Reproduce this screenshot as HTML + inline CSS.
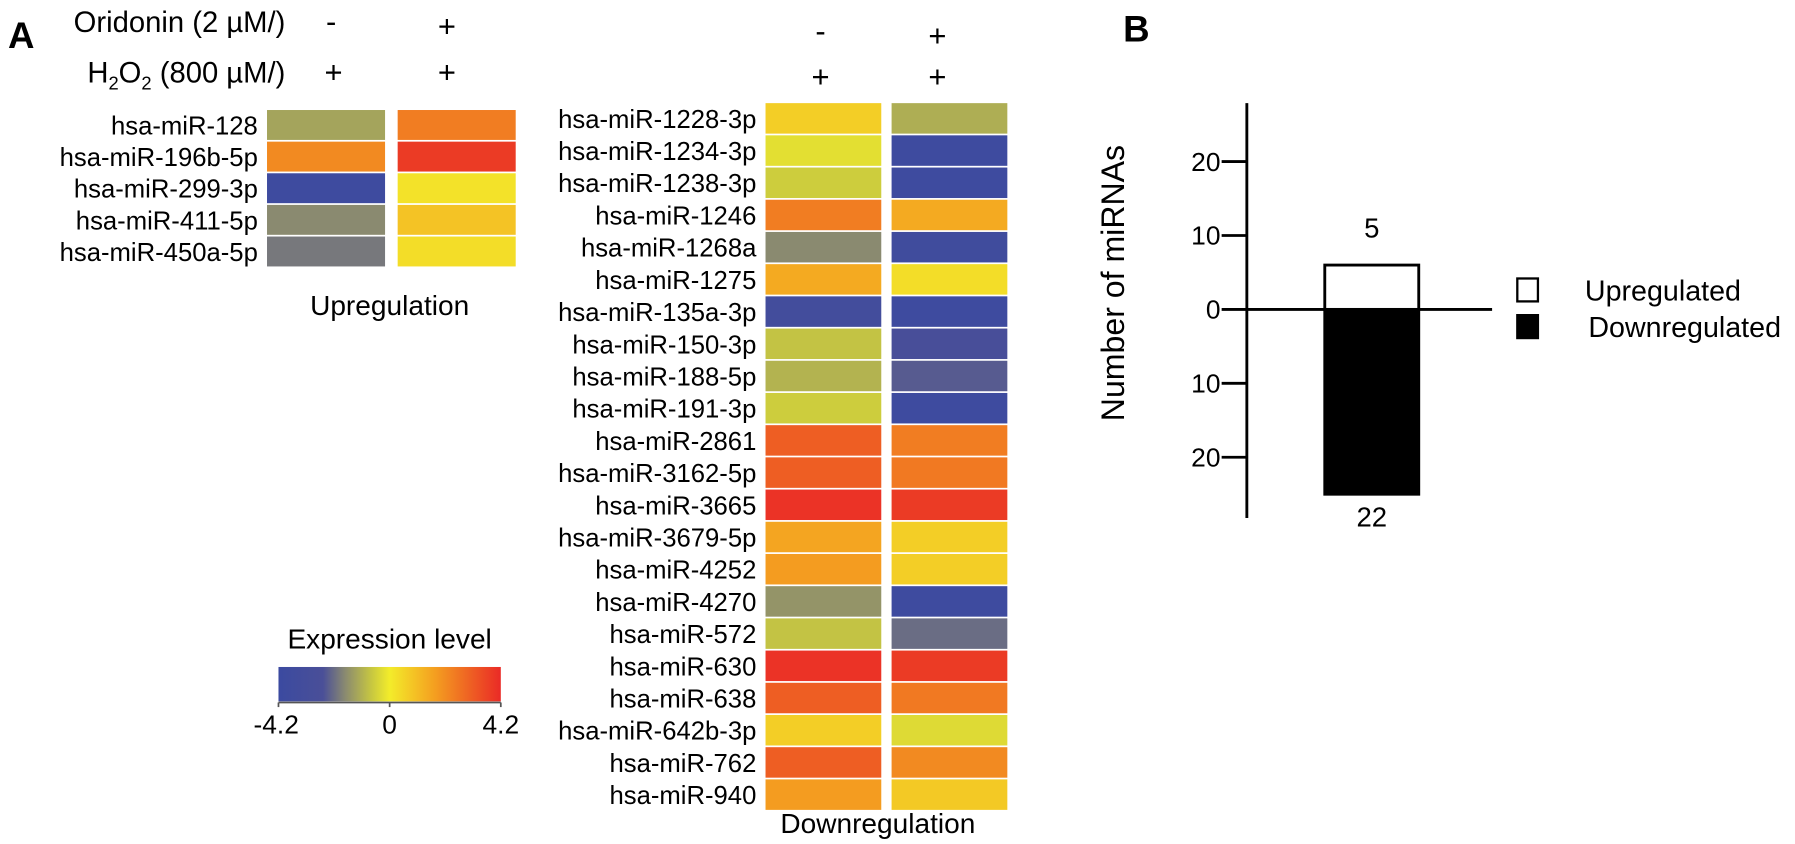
<!DOCTYPE html>
<html><head><meta charset="utf-8"><style>
html,body{margin:0;padding:0;background:#fff}
svg{display:block;font-family:"Liberation Sans",Arial,sans-serif}
</style></head><body>
<svg id="fig" width="1795" height="844" viewBox="0 0 1795 844" xmlns="http://www.w3.org/2000/svg">
<defs>
<linearGradient id="cb" x1="0" x2="1" y1="0" y2="0">
<stop offset="0" stop-color="#3b4aa0"/><stop offset="0.2" stop-color="#4a4f98"/><stop offset="0.3" stop-color="#8a8a70"/><stop offset="0.42" stop-color="#c8c840"/><stop offset="0.5" stop-color="#f3ec2a"/><stop offset="0.7" stop-color="#f4a020"/><stop offset="1" stop-color="#ea2a26"/>
</linearGradient>
</defs>
<g transform="scale(1.146)">
<text x="7" y="42" font-size="32" font-weight="bold">A</text>
<text x="980" y="36" font-size="32" font-weight="bold">B</text>
<text x="249" y="28" font-size="25.5" text-anchor="end">Oridonin (2 µM/)</text>
<text x="249" y="72" font-size="25.5" text-anchor="end">H<tspan font-size="16" dy="6">2</tspan><tspan dy="-6">O</tspan><tspan font-size="16" dy="6">2</tspan><tspan dy="-6"> (800 µM/)</tspan></text>
<g font-size="27" text-anchor="middle">
<text x="289" y="28">-</text><text x="390" y="32">+</text>
<text x="291" y="72">+</text><text x="390" y="72">+</text>
<text x="716" y="36">-</text><text x="818" y="40">+</text>
<text x="716" y="76">+</text><text x="818" y="76">+</text>
</g>
<g id="up"></g><g id="down"></g>
<text x="340" y="275" font-size="24.5" text-anchor="middle">Upregulation</text>
<text x="766" y="727" font-size="24.5" text-anchor="middle">Downregulation</text>
<text x="340" y="566" font-size="24.5" text-anchor="middle">Expression level</text>
<rect x="243" y="582" width="194" height="30" fill="url(#cb)"/>
<g stroke="#555" stroke-width="1.5">
<line x1="243" y1="613" x2="437" y2="613"/><line x1="243" y1="613" x2="243" y2="617"/><line x1="340" y1="613" x2="340" y2="617"/><line x1="437" y1="613" x2="437" y2="617"/>
</g>
<g font-size="23" text-anchor="middle">
<text x="241" y="640">-4.2</text><text x="340" y="640">0</text><text x="437" y="640">4.2</text>
</g>
<g id="bar"></g>
</g>
</svg>
<script>
const upNames=["hsa-miR-128","hsa-miR-196b-5p","hsa-miR-299-3p","hsa-miR-411-5p","hsa-miR-450a-5p"];
const upCtrl=[-1.5,2.0,-4.0,-2.0,-2.3];
const upOri=[2.3,3.8,0.2,0.8,0.3];
const downNames=["hsa-miR-1228-3p","hsa-miR-1234-3p","hsa-miR-1238-3p","hsa-miR-1246","hsa-miR-1268a","hsa-miR-1275","hsa-miR-135a-3p","hsa-miR-150-3p","hsa-miR-188-5p","hsa-miR-191-3p","hsa-miR-2861","hsa-miR-3162-5p","hsa-miR-3665","hsa-miR-3679-5p","hsa-miR-4252","hsa-miR-4270","hsa-miR-572","hsa-miR-630","hsa-miR-638","hsa-miR-642b-3p","hsa-miR-762","hsa-miR-940"];
const downCtrl=[0.6,-0.3,-0.7,2.3,-2.0,1.3,-3.6,-0.9,-1.2,-0.7,3.0,3.0,4.0,1.4,1.6,-1.8,-0.9,4.0,3.0,0.6,3.0,1.6];
const downOri=[-1.3,-4.0,-4.0,1.3,-3.8,0.3,-4.0,-3.2,-2.8,-4.0,2.3,2.4,3.8,0.6,0.6,-4.0,-2.5,3.8,2.4,-0.4,2.0,0.7];
const barCats=["Upregulated","Downregulated"];
const barValues=[6,-25];
const barLabels=["5","22"];
const yTicks=[20,10,0,-10,-20];

const NS="http://www.w3.org/2000/svg";
const stops=[[-4.2,[59,74,160]],[-3.0,[74,79,152]],[-2.0,[138,138,112]],[-0.8,[200,200,64]],[0,[243,236,42]],[1.5,[244,160,32]],[4.2,[234,42,38]]];
function cmap(v){v=Math.max(-4.2,Math.min(4.2,v));for(let i=0;i<stops.length-1;i++){const a=stops[i],b=stops[i+1];if(v<=b[0]){const t=(v-a[0])/(b[0]-a[0]);const c=a[1].map((x,k)=>Math.round(x+(b[1][k]-x)*t));return `rgb(${c})`;}}return "rgb(234,42,38)";}
function mk(tag,attrs,parent){const e=document.createElementNS(NS,tag);for(const k in attrs)e.setAttribute(k,attrs[k]);parent.appendChild(e);return e;}
function heat(g,names,c1,c2,x1,x2,w,y0,h,lx){
 names.forEach((n,i)=>{const y=y0+i*h;
  const t=mk("text",{x:lx,y:y+h/2+7.5,"font-size":22.4,"text-anchor":"end"},g);t.textContent=n;
  
  
  const r1=mk("rect",{x:x1,y:y,width:w,height:h-1.5,fill:cmap(c1[i])},g);
  
  
  const r2=mk("rect",{x:x2,y:y,width:w,height:h-1.5,fill:cmap(c2[i])},g);
  
  
 });}
heat(document.getElementById('up'),upNames,upCtrl,upOri,233,347,103,96,27.6,225);
heat(document.getElementById('down'),downNames,downCtrl,downOri,668,778,101,90,28.1,660);

const bg=document.getElementById('bar');
const y=v=>270-v*6.45;
const ax=1088;
const axis=mk("line",{x1:ax,y1:90,x2:ax,y2:452,stroke:"#000","stroke-width":2.5},bg);


const zl=mk("line",{x1:ax,y1:y(0),x2:1302,y2:y(0),stroke:"#000","stroke-width":2.5},bg);


yTicks.forEach(t=>{const l=mk("line",{x1:ax-22,y1:y(t),x2:ax,y2:y(t),stroke:"#000","stroke-width":2.5},bg);
 
 
 const tx=mk("text",{x:ax-23,y:y(t)+8,"font-size":23,"text-anchor":"end"},bg);tx.textContent=Math.abs(t);
 
 });
const yt=mk("text",{x:0,y:0,"font-size":28,"text-anchor":"middle",transform:"translate(981,247) rotate(-90)"},bg);yt.textContent="Number of miRNAs";


barValues.forEach((v,i)=>{const top=Math.min(y(0),y(v)),hh=Math.abs(y(v)-y(0));
 const r=mk("rect",{x:1156,y:top,width:82,height:hh,fill:v>0?"#fff":"#000",stroke:"#000","stroke-width":2.5},bg);
 
 
 const lt=mk("text",{x:1197,y:v>0?y(v)-24:y(v)+28,"font-size":24,"text-anchor":"middle"},bg);lt.textContent=barLabels[i];
 
 
 const lr=mk("rect",{x:1324,y:243+i*32,width:18,height:20,fill:v>0?"#fff":"#000",stroke:"#000","stroke-width":2},bg);
 
 
 const ltx=mk("text",{x:i?1386:1383,y:262+i*32,"font-size":25},bg);ltx.textContent=barCats[i];
 
 
});
</script>
</body></html>
